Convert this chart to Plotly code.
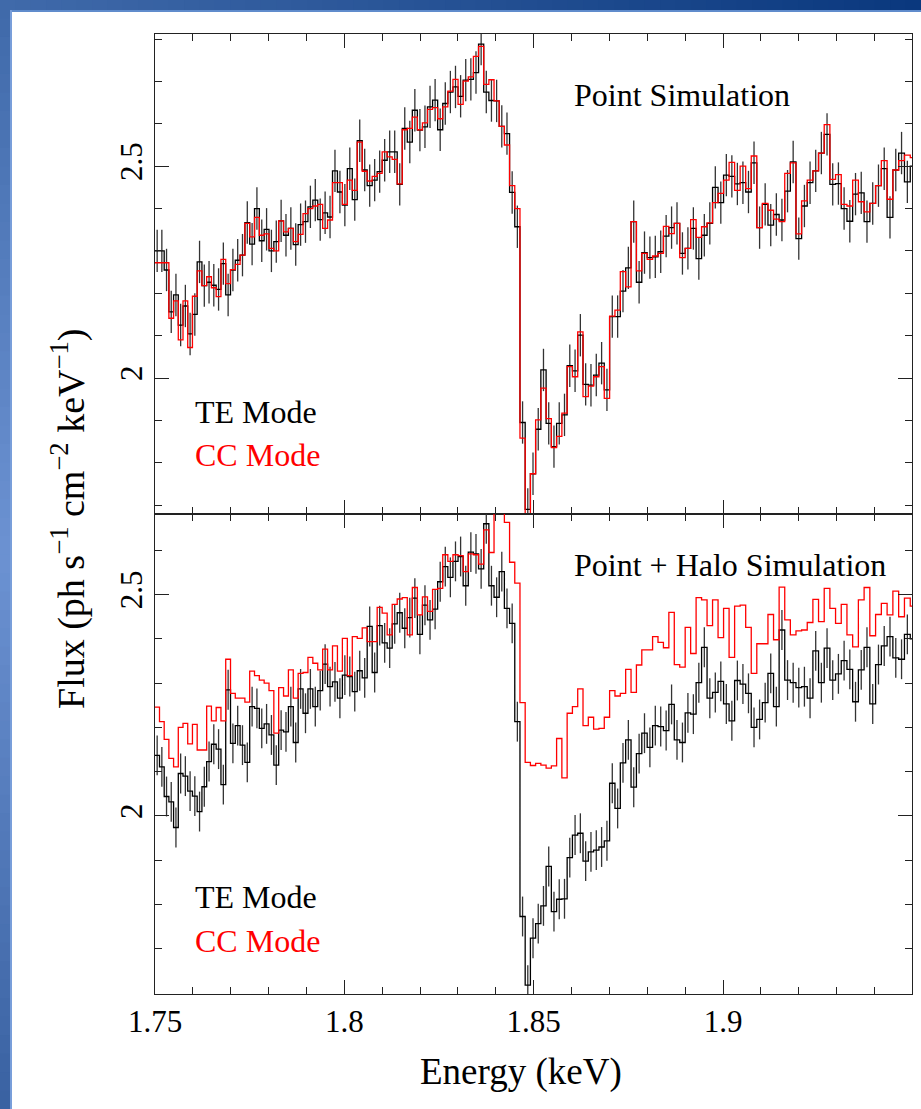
import plotly.graph_objects as go
from plotly.subplots import make_subplots

# ---------------- data ----------------
# Spectral bins: constant-wavelength grid (0.005 A) converted to energy (keV)
HC_KEV_ANGSTROM = 12.39842
WAVELENGTH_START = 7.085
WAVELENGTH_BIN = 0.005

# Point simulation, TE mode (black) and CC mode (red)
te_point = [
    2.300, 2.300, 2.255, 2.156, 2.196, 2.125, 2.170, 2.104, 2.150, 2.274,
    2.218, 2.226, 2.219, 2.209, 2.270, 2.196, 2.255, 2.278, 2.290, 2.367,
    2.316, 2.400, 2.324, 2.351, 2.300, 2.322, 2.371, 2.337, 2.353, 2.315,
    2.362, 2.369, 2.404, 2.420, 2.374, 2.390, 2.380, 2.489, 2.439, 2.408,
    2.494, 2.421, 2.560, 2.491, 2.454, 2.467, 2.487, 2.514, 2.534, 2.534,
    2.457, 2.589, 2.557, 2.632, 2.585, 2.593, 2.640, 2.656, 2.586, 2.648,
    2.675, 2.687, 2.665, 2.703, 2.705, 2.721, 2.788, 2.675, 2.655, 2.654,
    2.594, 2.577, 2.438, 2.357,
    1.895, 1.690, 1.774, 1.879, 2.019, 1.893, 1.838, 1.893, 1.913, 2.029,
    2.017, 2.101, 1.985, 1.983, 2.007, 2.035, 1.972, 2.145, 2.145, 2.205,
    2.260, 2.369, 2.226, 2.296, 2.284, 2.286, 2.298, 2.335, 2.355, 2.365,
    2.294, 2.306, 2.353, 2.282, 2.337, 2.365, 2.450, 2.414, 2.479, 2.476,
    2.458, 2.461, 2.439, 2.508, 2.355, 2.410, 2.361, 2.386, 2.373, 2.441,
    2.510, 2.329, 2.406, 2.461, 2.489, 2.531, 2.575, 2.457, 2.459, 2.400,
    2.370, 2.434, 2.437, 2.369, 2.412, 2.454, 2.494, 2.379, 2.491, 2.531,
    2.463, 2.500,
]
cc_point = [
    2.272, 2.272, 2.272, 2.141, 2.182, 2.090, 2.182, 2.072, 2.193, 2.253,
    2.218, 2.239, 2.213, 2.192, 2.280, 2.223, 2.256, 2.268, 2.290, 2.365,
    2.333, 2.379, 2.337, 2.340, 2.306, 2.300, 2.371, 2.345, 2.353, 2.322,
    2.339, 2.388, 2.400, 2.406, 2.410, 2.353, 2.373, 2.461, 2.461, 2.410,
    2.467, 2.443, 2.557, 2.488, 2.465, 2.476, 2.483, 2.534, 2.522, 2.516,
    2.458, 2.586, 2.589, 2.616, 2.586, 2.602, 2.634, 2.638, 2.612, 2.640,
    2.677, 2.705, 2.646, 2.701, 2.711, 2.759, 2.783, 2.693, 2.704, 2.654,
    2.594, 2.550, 2.454, 2.400,
    1.858, 1.660, 1.774, 1.901, 1.976, 1.904, 1.836, 1.862, 1.917, 2.027,
    2.003, 2.109, 1.956, 1.981, 2.003, 2.027, 1.952, 2.146, 2.160, 2.251,
    2.215, 2.369, 2.253, 2.294, 2.280, 2.288, 2.294, 2.358, 2.341, 2.365,
    2.284, 2.306, 2.374, 2.332, 2.357, 2.366, 2.414, 2.436, 2.467, 2.509,
    2.443, 2.500, 2.447, 2.524, 2.355, 2.412, 2.396, 2.375, 2.369, 2.483,
    2.508, 2.340, 2.418, 2.467, 2.489, 2.531, 2.598, 2.469, 2.480, 2.410,
    2.406, 2.467, 2.416, 2.392, 2.412, 2.454, 2.513, 2.422, 2.491, 2.513,
    2.526, 2.520,
]

# Point + Halo simulation, TE mode (black) and CC mode (red)
te_halo = [
    2.137, 2.111, 2.044, 2.032, 1.974, 2.096, 2.090, 2.056, 2.045, 2.010,
    2.066, 2.123, 2.162, 2.151, 2.071, 2.285, 2.164, 2.204, 2.160, 2.121,
    2.247, 2.243, 2.198, 2.208, 2.183, 2.115, 2.194, 2.190, 2.247, 2.166,
    2.287, 2.232, 2.287, 2.247, 2.283, 2.343, 2.292, 2.303, 2.266, 2.318,
    2.315, 2.281, 2.328, 2.312, 2.428, 2.324, 2.430, 2.391, 2.379, 2.434,
    2.459, 2.424, 2.448, 2.492, 2.410, 2.476, 2.443, 2.467, 2.529, 2.563,
    2.539, 2.575, 2.586, 2.520, 2.596, 2.592, 2.558, 2.660, 2.520, 2.494,
    2.552, 2.469, 2.435, 2.213,
    1.773, 1.618, 1.724, 1.757, 1.797, 1.886, 1.784, 1.812, 1.813, 1.906,
    1.957, 1.961, 1.898, 1.919, 1.923, 1.930, 1.944, 2.074, 2.017, 2.120,
    2.172, 2.065, 2.141, 2.187, 2.155, 2.204, 2.202, 2.193, 2.252, 2.172,
    2.166, 2.233, 2.230, 2.301, 2.381, 2.266, 2.279, 2.304, 2.253, 2.215,
    2.306, 2.298, 2.277, 2.200, 2.218, 2.256, 2.322, 2.247, 2.420, 2.307,
    2.301, 2.290, 2.292, 2.266, 2.373, 2.301, 2.379, 2.307, 2.321, 2.351,
    2.331, 2.258, 2.330, 2.381, 2.253, 2.342, 2.384, 2.405, 2.357, 2.354,
    2.410, 2.400,
]
cc_halo = [
    2.246, 2.213, 2.173, 2.130, 2.111, 2.200, 2.209, 2.163, 2.207, 2.149,
    2.149, 2.248, 2.215, 2.245, 2.215, 2.354, 2.277, 2.266, 2.266, 2.257,
    2.327, 2.317, 2.307, 2.300, 2.283, 2.187, 2.290, 2.271, 2.330, 2.266,
    2.322, 2.324, 2.358, 2.345, 2.330, 2.377, 2.330, 2.384, 2.327, 2.401,
    2.317, 2.405, 2.401, 2.425, 2.394, 2.394, 2.471, 2.458, 2.409, 2.478,
    2.490, 2.493, 2.409, 2.516, 2.454, 2.495, 2.462, 2.512, 2.514, 2.590,
    2.575, 2.590, 2.588, 2.552, 2.592, 2.590, 2.569, 2.646, 2.595, 2.700,
    2.700, 2.663, 2.573, 2.526,
    2.256, 2.121, 2.114, 2.119, 2.115, 2.108, 2.113, 2.175, 2.086, 2.232,
    2.247, 2.287, 2.204, 2.223, 2.196, 2.198, 2.223, 2.283, 2.271, 2.277,
    2.331, 2.279, 2.341, 2.375, 2.375, 2.405, 2.392, 2.380, 2.460, 2.342,
    2.336, 2.426, 2.367, 2.493, 2.488, 2.430, 2.488, 2.403, 2.469, 2.358,
    2.474, 2.476, 2.426, 2.322, 2.389, 2.389, 2.455, 2.398, 2.517, 2.443,
    2.409, 2.418, 2.420, 2.437, 2.489, 2.439, 2.514, 2.469, 2.435, 2.478,
    2.409, 2.382, 2.488, 2.516, 2.407, 2.455, 2.480, 2.454, 2.508, 2.450,
    2.492, 2.474,
]

TE_POINT_ERR = 0.05
TE_HALO_ERR = 0.045

panel_titles = ["Point Simulation", "Point + Halo Simulation"]
mode_labels = ["TE Mode", "CC Mode"]

# ---------------- geometry helpers ----------------
n_bins = len(te_point)
edges = [HC_KEV_ANGSTROM / (WAVELENGTH_START - WAVELENGTH_BIN * i) for i in range(n_bins + 1)]
centers = [(edges[i] + edges[i + 1]) / 2 for i in range(n_bins)]

FONT = "Liberation Serif"
BLACK = "#000000"
RED = "#ff0000"
AXC = "#222222"

W, H = 921, 1109
ML, MR, MT, MB = 155, 9, 34, 115
PW, PH = W - ML - MR, H - MT - MB


def px_to_paper(x, y):
    return (x - ML) / PW, (H - MB - y) / PH


fig = make_subplots(rows=2, cols=1, shared_xaxes=True, vertical_spacing=0)


def add_panel(row, te, cc, err):
    fig.add_trace(go.Scatter(
        x=centers, y=te, mode="markers",
        marker=dict(size=0.1, opacity=0, color=BLACK),
        error_y=dict(type="constant", value=err, width=0, thickness=1.3, color="#333333"),
        showlegend=False, hoverinfo="skip"), row=row, col=1)
    fig.add_trace(go.Scatter(
        x=edges, y=te + [te[-1]], mode="lines", line=dict(color=BLACK, width=1.3, shape="hv"),
        showlegend=False), row=row, col=1)
    fig.add_trace(go.Scatter(
        x=edges, y=cc + [cc[-1]], mode="lines", line=dict(color=RED, width=1.3, shape="hv"),
        showlegend=False), row=row, col=1)


add_panel(1, te_point, cc_point, TE_POINT_ERR)
add_panel(2, te_halo, cc_halo, TE_HALO_ERR)

common_axis = dict(
    showline=True, linecolor=AXC, linewidth=1.2, mirror="allticks",
    ticks="inside", ticklen=14, tickwidth=1.2, tickcolor=AXC,
    showgrid=False, zeroline=False,
    tickfont=dict(family=FONT, size=31, color=BLACK),
)

for r in (1, 2):
    fig.update_xaxes(
        range=[1.75, 1.9499], tick0=1.75, dtick=0.05,
        minor=dict(ticks="inside", dtick=0.01, tick0=1.75, ticklen=7, tickwidth=1.2, tickcolor=AXC),
        row=r, col=1, **common_axis)

fig.update_xaxes(showticklabels=False, row=1, col=1)
fig.update_xaxes(showticklabels=True, row=2, col=1)

fig.update_yaxes(range=[1.679, 2.812], row=1, col=1)
fig.update_yaxes(range=[1.598, 2.682], row=2, col=1)
for r in (1, 2):
    fig.update_yaxes(
        tick0=0, dtick=0.5, tickangle=-90,
        minor=dict(ticks="inside", dtick=0.1, tick0=0, ticklen=7, tickwidth=1.2, tickcolor=AXC),
        row=r, col=1, **common_axis)

annotations = []


def add_text(text, x_px, y_px, color=BLACK, size=32, xanchor="left", angle=0):
    xp, yp = px_to_paper(x_px, y_px)
    annotations.append(dict(
        text=text, x=xp, y=yp, xref="paper", yref="paper", showarrow=False,
        xanchor=xanchor, yanchor="middle", textangle=angle,
        font=dict(family=FONT, size=size, color=color)))


add_text(panel_titles[0], 572, 95)
add_text(panel_titles[1], 572, 565)
add_text(mode_labels[0], 193, 412)
add_text(mode_labels[1], 193, 455, color=RED)
add_text(mode_labels[0], 193, 897)
add_text(mode_labels[1], 193, 941, color=RED)
add_text("Energy (keV)", 521, 1072, size=37, xanchor="center")
add_text("Flux (ph s<sup>\u22121</sup> cm<sup>\u22122</sup> keV<sup>\u22121</sup>)", 68, 519,
         size=38, xanchor="center", angle=-90)

# ---------------- blue frame (decoration) ----------------
shapes = []


def lerp(c1, c2, t):
    return "rgb(%d,%d,%d)" % tuple(round(a + (b - a) * t) for a, b in zip(c1, c2))


top_left, top_right = (64, 106, 170), (10, 56, 126)
N = 60
for i in range(N):
    x0 = i * W / N
    x1 = (i + 1) * W / N + 1
    shapes.append(dict(type="rect", xref="paper", yref="paper",
                       x0=(x0 - ML) / PW, x1=(x1 - ML) / PW,
                       y0=(H - MB - 12) / PH, y1=(H - MB + 1) / PH,
                       line=dict(width=0), fillcolor=lerp(top_left, top_right, i / (N - 1)), layer="above"))
shapes.append(dict(type="rect", xref="paper", yref="paper",
                   x0=(12 - ML) / PW, x1=(W + 1 - ML) / PW,
                   y0=(H - MB - 12) / PH, y1=(H - MB - 10) / PH,
                   line=dict(width=0), fillcolor="rgb(96,140,204)", layer="above"))

left_top, left_mid, left_bot = (64, 106, 170), (108, 146, 210), (58, 98, 162)
for i in range(N):
    y0 = i * H / N
    y1 = (i + 1) * H / N + 1
    t = i / (N - 1)
    col = lerp(left_top, left_mid, t * 2) if t < 0.5 else lerp(left_mid, left_bot, (t - 0.5) * 2)
    shapes.append(dict(type="rect", xref="paper", yref="paper",
                       x0=(-1 - ML) / PW, x1=(12 - ML) / PW,
                       y0=(H - MB - y1) / PH, y1=(H - MB - y0) / PH,
                       line=dict(width=0), fillcolor=col, layer="above"))
shapes.append(dict(type="rect", xref="paper", yref="paper",
                   x0=(10 - ML) / PW, x1=(12 - ML) / PW,
                   y0=(H - MB - H) / PH, y1=(H - MB - 10) / PH,
                   line=dict(width=0), fillcolor="rgb(120,158,218)", layer="above"))

fig.update_layout(
    width=W, height=H,
    margin=dict(l=ML, r=MR, t=MT, b=MB),
    paper_bgcolor="white", plot_bgcolor="white",
    font=dict(family=FONT, color=BLACK),
    annotations=annotations, shapes=shapes,
    showlegend=False,
)

fig.write_html("out.html")
